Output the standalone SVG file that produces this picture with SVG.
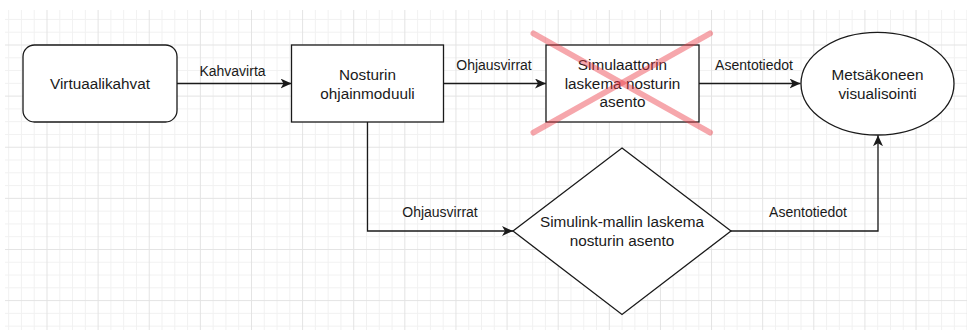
<svg xmlns="http://www.w3.org/2000/svg" width="968" height="331" viewBox="0 0 968 331">
  <style>
    .shape { fill: #ffffff; stroke: #1a1a1a; stroke-width: 1.3; }
    .edge { fill: none; stroke: #1a1a1a; stroke-width: 1.3; }
    .node-text { font-family: "Liberation Sans", Arial, sans-serif; font-size: 15.3px; fill: #1a1a1a; text-anchor: middle; }
    .edge-text { font-family: "Liberation Sans", Arial, sans-serif; font-size: 14px; fill: #1a1a1a; text-anchor: middle; }
    .strike { stroke: #ea3c46; stroke-opacity: 0.45; stroke-width: 6; stroke-linecap: round; }
  </style>
  <defs>
    <!-- background grid: 4 minor cells per major cell -->
    <pattern id="grid" patternUnits="userSpaceOnUse" x="46.5" y="44.5" width="51.12" height="51.12">
      <g stroke="#f1f1f1" stroke-width="1">
        <line x1="13.28" y1="0" x2="13.28" y2="51.12"/>
        <line x1="26.06" y1="0" x2="26.06" y2="51.12"/>
        <line x1="38.84" y1="0" x2="38.84" y2="51.12"/>
        <line x1="0" y1="13.28" x2="51.12" y2="13.28"/>
        <line x1="0" y1="26.06" x2="51.12" y2="26.06"/>
        <line x1="0" y1="38.84" x2="51.12" y2="38.84"/>
      </g>
      <g stroke="#e3e3e3" stroke-width="1">
        <line x1="0.5" y1="0" x2="0.5" y2="51.12"/>
        <line x1="0" y1="0.5" x2="51.12" y2="0.5"/>
      </g>
    </pattern>
    <marker id="arrow" viewBox="0 0 11 10" refX="11" refY="5" markerWidth="11" markerHeight="10" markerUnits="userSpaceOnUse" orient="auto">
      <path d="M0 0 L11 5 L0 10 L3 5 Z" fill="#1a1a1a"/>
    </marker>
  </defs>

  <rect x="0" y="0" width="968" height="331" fill="#ffffff"/>
  <rect x="5" y="10" width="962" height="320" fill="url(#grid)"/>

  <!-- connectors -->
  <g id="connectors">
    <path class="edge" d="M177 83.5 H291.5" marker-end="url(#arrow)"/>
    <text class="edge-text" x="232.5" y="76">Kahvavirta</text>

    <path class="edge" d="M443.5 83.5 H546" marker-end="url(#arrow)"/>
    <text class="edge-text" x="494" y="69.5">Ohjausvirrat</text>

    <path class="edge" d="M699 83.5 H800.5" marker-end="url(#arrow)"/>
    <text class="edge-text" x="754" y="69.5">Asentotiedot</text>

    <path class="edge" d="M367.5 122 V231 H513" marker-end="url(#arrow)"/>
    <text class="edge-text" x="440" y="217">Ohjausvirrat</text>

    <path class="edge" d="M731 231 H878 V135.2" marker-end="url(#arrow)"/>
    <text class="edge-text" x="808" y="217">Asentotiedot</text>
  </g>

  <g id="virtuaalikahvat">
    <rect class="shape" x="23" y="45" width="154" height="77" rx="11.5" ry="11.5"/>
    <text class="node-text" x="100" y="88.8">Virtuaalikahvat</text>
  </g>

  <g id="ohjainmoduuli">
    <rect class="shape" x="291.5" y="45" width="152" height="77"/>
    <text class="node-text" x="367.5" y="79.7">Nosturin</text>
    <text class="node-text" x="367.5" y="98.7">ohjainmoduuli</text>
  </g>

  <g id="simulaattori">
    <rect class="shape" x="546" y="45" width="153" height="77"/>
    <text class="node-text" x="622.5" y="70.4">Simulaattorin</text>
    <text class="node-text" x="622.5" y="88.8">laskema nosturin</text>
    <text class="node-text" x="622.5" y="107.1">asento</text>
    <line class="strike" x1="533.5" y1="33.5" x2="710" y2="132.5"/>
    <line class="strike" x1="710" y1="33.5" x2="533.5" y2="132.5"/>
  </g>

  <g id="visualisointi">
    <ellipse class="shape" cx="877.5" cy="83.7" rx="76.5" ry="51.3"/>
    <text class="node-text" x="877.5" y="80.4">Metsäkoneen</text>
    <text class="node-text" x="877.5" y="98.7">visualisointi</text>
  </g>

  <g id="simulink">
    <polygon class="shape" points="622,148 731,231 622,314.5 513,231"/>
    <text class="node-text" x="622" y="227.3">Simulink-mallin laskema</text>
    <text class="node-text" x="622" y="245.6">nosturin asento</text>
  </g>
</svg>
